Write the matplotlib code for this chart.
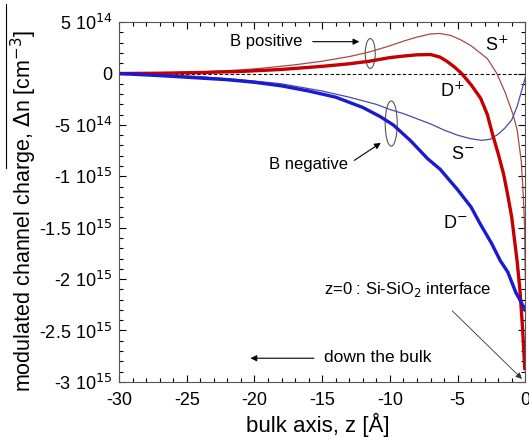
import numpy as np
import matplotlib.pyplot as plt
from matplotlib.patches import Ellipse
from matplotlib.ticker import MultipleLocator

plt.rcParams['font.family'] = ['Liberation Sans', 'DejaVu Sans']
plt.rcParams['axes.unicode_minus'] = False

# values in units of 1e14 cm^-3
z_dp = [-30, -27, -24, -21, -18, -15, -13, -11.5, -10, -9, -8, -7, -6.3, -5.8, -5.2, -4.7,
        -4, -3.3, -2.8, -2.4, -2.0, -1.6, -1.3, -1.0, -0.6, -0.4, -0.2, -0.04]
d_plus = [0, 0.03, 0.1, 0.2, 0.4, 0.7, 0.95, 1.2, 1.55, 1.7, 1.82, 1.85, 1.6, 1.2, 0.6, 0,
          -1.1, -2.4, -4.0, -6.0, -7.8, -9.8, -11.8, -14.0, -18.3, -21.0, -24.8, -28.7]

z_sp = [-30, -27, -24, -21, -19.6, -17, -15, -13, -11.5, -10, -9, -8, -7, -6.3, -5.5, -4.8,
        -4, -2.8, -2.1, -1.5, -0.9, -0.6, -0.3, -0.15, -0.05, 0]
s_plus = [0, 0.05, 0.15, 0.35, 0.5, 0.85, 1.2, 1.65, 2.1, 2.7, 3.15, 3.55, 3.85, 3.9, 3.7, 3.3,
          2.7, 1.45, 0, -1.8, -4.0, -5.5, -8.5, -11.8, -15, -20]

z_sm = [-30, -27, -24, -21, -18, -15, -13, -11, -10, -9, -8, -7, -6, -5, -4, -3.2,
        -2.6, -2.0, -1.5, -1.0, -0.6, -0.3, 0]
s_minus = [0, -0.1, -0.3, -0.6, -1.0, -1.7, -2.3, -3.0, -3.5, -3.9, -4.4, -4.9, -5.5, -6.0, -6.35, -6.5,
           -6.4, -5.9, -5.3, -4.5, -3.2, -1.8, -0.4]

z_dm = [-30, -27, -24.5, -22, -20, -18, -16, -14, -12, -10.7, -9.75, -8.5, -7.2, -6.3, -5, -4,
        -3.3, -2.5, -1.85, -1.3, -0.7, 0]
d_minus = [0, -0.2, -0.4, -0.6, -0.85, -1.2, -1.7, -2.3, -3.3, -4.2, -5.0, -6.5, -8.3, -9.3, -11.3, -13.0,
           -14.7, -16.5, -18.2, -19.3, -21.3, -23.0]

yticks = [5e14, 0, -5e14, -1e15, -1.5e15, -2e15, -2.5e15, -3e15]
ytick_labels = [r'5 10$^{14}$', '0', r'-5 10$^{14}$', r'-1 10$^{15}$', r'-1.5 10$^{15}$',
                r'-2 10$^{15}$', r'-2.5 10$^{15}$', r'-3 10$^{15}$']

fig = plt.figure(figsize=(5.29, 4.43), dpi=100)
ax = fig.add_axes([0.225, 0.138, 0.768, 0.812])

sc = 1e14
ax.axhline(0, color='black', lw=0.8, ls=(0, (3, 2)))
ax.plot(z_sp, np.array(s_plus) * sc, color='#a84848', lw=0.9)
ax.plot(z_sm, np.array(s_minus) * sc, color='#4a4aa8', lw=0.9)
ax.plot(z_dp, np.array(d_plus) * sc, color='#c40000', lw=2.4)
ax.plot(z_dm, np.array(d_minus) * sc, color='#1a1ad0', lw=2.4)

ax.set_xlim(-30, 0)
ax.set_ylim(-3e15, 5e14)
ax.set_xticks([-30, -25, -20, -15, -10, -5, 0])
ax.set_yticks(yticks)
ax.set_yticklabels(ytick_labels)
ax.xaxis.set_minor_locator(MultipleLocator(1))
ax.yaxis.set_minor_locator(MultipleLocator(1e14))
ax.tick_params(which='both', direction='in', top=True, right=True, labelsize=13)
ax.tick_params(axis='x', pad=7)
ax.tick_params(axis='y', pad=5)
ax.tick_params(which='major', length=5, width=0.8)
ax.tick_params(which='minor', length=3, width=0.8)
for s in ax.spines.values():
    s.set_color('#555555')

ax.set_xlabel(u'bulk axis, z [\u00c5]', fontsize=16)
ax.xaxis.set_label_coords(0.49, -0.085)
ax.set_ylabel(r'modulated channel charge, $\Delta$n [cm$^{-3}$]', fontsize=15.5)
ax.yaxis.set_label_coords(-0.197, 0.475)

# ellipses marking the groups
ax.add_patch(Ellipse((-11.45, 1.95e14), 0.74, 2.9e14, fill=False, ec='#555555', lw=0.8))
ax.add_patch(Ellipse((-9.9, -4.87e14), 0.89, 4.4e14, fill=False, ec='#555555', lw=0.8))

ax.text(-19.1, 3.1e14, 'B positive', fontsize=12, ha='center', va='center')
ax.annotate('', xy=(-12.05, 3.1e14), xytext=(-15.9, 3.1e14),
            arrowprops=dict(arrowstyle='-|>', color='black', lw=0.8, mutation_scale=9))
ax.text(-16.0, -8.85e14, 'B negative', fontsize=12, ha='center', va='center')
ax.annotate('', xy=(-10.5, -6.6e14), xytext=(-12.8, -8.6e14),
            arrowprops=dict(arrowstyle='-|>', color='black', lw=0.8, mutation_scale=9))

ax.text(-2.1, 2.8e14, r'S$^{+}$', fontsize=13, ha='center', va='center')
ax.text(-5.4, -1.75e14, r'D$^{+}$', fontsize=13, ha='center', va='center')
ax.text(-4.6, -7.9e14, r'S$^{-}$', fontsize=13, ha='center', va='center')
ax.text(-5.2, -1.46e15, r'D$^{-}$', fontsize=13, ha='center', va='center')

ax.text(-8.7, -2.1e15, r'z=0 : Si-SiO$_2$ interface', fontsize=12, ha='center', va='center')
ax.annotate('', xy=(-0.1, -2.99e15), xytext=(-5.54, -2.29e15),
            arrowprops=dict(arrowstyle='-|>', color='#333333', lw=0.6, mutation_scale=9))

ax.text(-10.9, -2.76e15, 'down the bulk', fontsize=12.5, ha='center', va='center')
ax.annotate('', xy=(-20.5, -2.77e15), xytext=(-15.4, -2.77e15),
            arrowprops=dict(arrowstyle='-|>', color='black', lw=0.8, mutation_scale=9))

# stray vertical rule at far left of the original
fig.add_artist(plt.Line2D([0.012, 0.012], [0.62, 0.99], color='black', lw=0.8))

fig.savefig('out.png', dpi=100)
